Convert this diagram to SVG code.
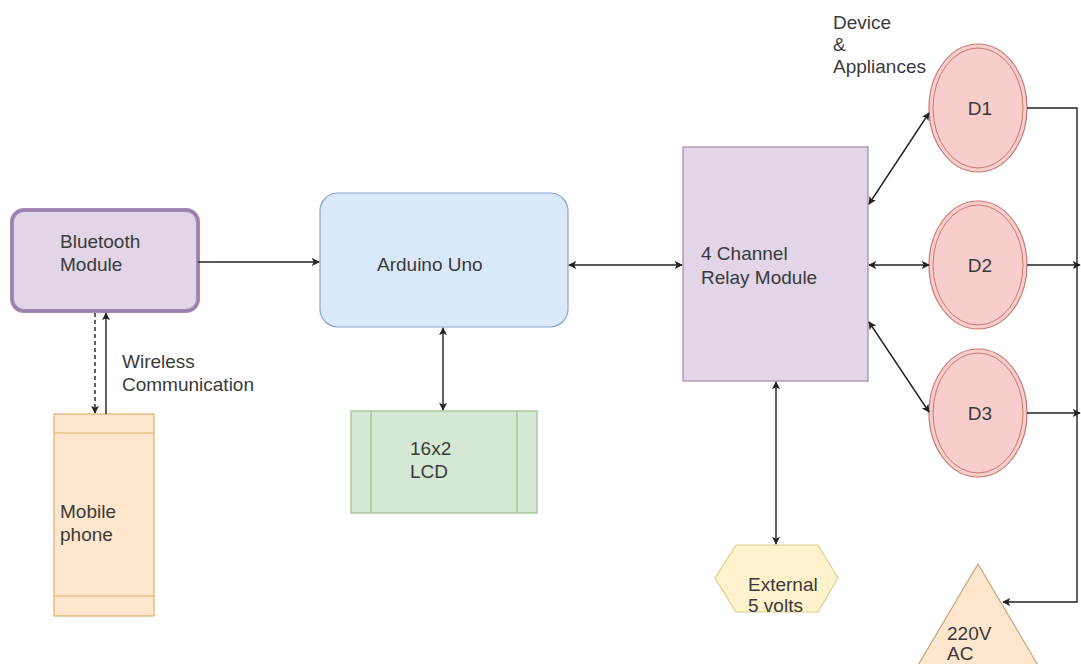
<svg xmlns="http://www.w3.org/2000/svg" width="1081" height="664" viewBox="0 0 1081 664">
<defs>
<marker id="ah" viewBox="0 0 10 10" refX="9" refY="5" markerWidth="8" markerHeight="8" markerUnits="userSpaceOnUse" orient="auto-start-reverse"><path d="M0,0 L10,5 L0,10 L2.5,5 Z" fill="#222"/></marker>
</defs>
<style>
text{font-family:"Liberation Sans",Arial,sans-serif;font-size:19px;fill:#3a3a3a}
.c{stroke:#222;stroke-width:1.4;fill:none}
</style>
<rect width="1081" height="664" fill="#fff"/>
<g id="bluetooth">
<rect x="12" y="210" width="186" height="101" rx="12" fill="#e1d5e7" stroke="#a58bb5" stroke-width="4"/>
<rect x="12" y="210" width="186" height="101" rx="12" fill="none" stroke="#8f77a0" stroke-width="1"/>
<text x="60" y="248">Bluetooth</text><text x="60" y="271">Module</text>
</g>
<g id="arduino">
<rect x="320" y="193" width="248" height="134" rx="18" fill="#dae8fc" stroke="#8aa6cc" stroke-width="1.2"/>
<text x="377" y="271">Arduino Uno</text>
</g>
<g id="relay">
<rect x="683" y="147" width="185" height="234" fill="#e1d5e7" stroke="#9f89ad" stroke-width="1.2"/>
<text x="701" y="260">4 Channel</text><text x="701" y="284">Relay Module</text>
</g>
<g id="d1"><ellipse cx="978" cy="108" rx="49" ry="64" fill="#f8cecc" stroke="#c97772" stroke-width="1.2"/><ellipse cx="978" cy="108" rx="45" ry="60" fill="none" stroke="#c97772" stroke-width="1"/><text x="980" y="115" text-anchor="middle">D1</text></g>
<g id="d2"><ellipse cx="978" cy="265" rx="49" ry="64" fill="#f8cecc" stroke="#c97772" stroke-width="1.2"/><ellipse cx="978" cy="265" rx="45" ry="60" fill="none" stroke="#c97772" stroke-width="1"/><text x="980" y="272" text-anchor="middle">D2</text></g>
<g id="d3"><ellipse cx="978" cy="413" rx="49" ry="64" fill="#f8cecc" stroke="#c97772" stroke-width="1.2"/><ellipse cx="978" cy="413" rx="45" ry="60" fill="none" stroke="#c97772" stroke-width="1"/><text x="980" y="420" text-anchor="middle">D3</text></g>
<g id="lcd">
<rect x="351" y="411" width="186" height="102" fill="#d5e8d4" stroke="#9cc08a" stroke-width="1.2"/>
<line x1="371" y1="411" x2="371" y2="513" stroke="#9cc08a" stroke-width="1.2"/>
<line x1="517" y1="411" x2="517" y2="513" stroke="#9cc08a" stroke-width="1.2"/>
<text x="410" y="455">16x2</text><text x="410" y="478">LCD</text>
</g>
<g id="mobile">
<rect x="54" y="414" width="100" height="202" fill="#ffe6cc" stroke="#e0b070" stroke-width="1.2"/>
<line x1="54" y1="433" x2="154" y2="433" stroke="#e0b070" stroke-width="1.2"/>
<line x1="54" y1="596" x2="154" y2="596" stroke="#e0b070" stroke-width="1.2"/>
<text x="60" y="518">Mobile</text><text x="60" y="541">phone</text>
</g>
<g id="ext5v">
<polygon points="736,545 818,545 838,578 818,612 736,612 715,578" fill="#fff2cc" stroke="#e0cc8a" stroke-width="1.2"/>
<text x="748" y="591">External</text><text x="748" y="612">5 volts</text>
</g>
<g id="ac220">
<polygon points="978,564 1042,672 914,672" fill="#ffe6cc" stroke="#c9a67a" stroke-width="1.2"/>
<text x="947" y="640">220V</text><text x="947" y="660">AC</text>
</g>
<g id="labels">
<text x="122" y="368">Wireless</text><text x="122" y="391">Communication</text>
<text x="833" y="29">Device</text><text x="833" y="51">&amp;</text><text x="833" y="73">Appliances</text>
</g>
<g id="connectors">
<line class="c" x1="198" y1="262" x2="319" y2="262" marker-end="url(#ah)"/>
<line class="c" x1="569" y1="265" x2="682" y2="265" marker-start="url(#ah)" marker-end="url(#ah)"/>
<line class="c" x1="443" y1="328" x2="443" y2="410" marker-start="url(#ah)" marker-end="url(#ah)"/>
<line class="c" x1="776" y1="382" x2="776" y2="544" marker-start="url(#ah)" marker-end="url(#ah)"/>
<line class="c" x1="95" y1="313" x2="95" y2="413" stroke-dasharray="4,3" marker-end="url(#ah)"/>
<line class="c" x1="106" y1="414" x2="106" y2="313" marker-end="url(#ah)"/>
<line class="c" x1="869" y1="204" x2="929" y2="113" marker-start="url(#ah)" marker-end="url(#ah)"/>
<line class="c" x1="869" y1="265" x2="929" y2="265" marker-start="url(#ah)" marker-end="url(#ah)"/>
<line class="c" x1="869" y1="322" x2="929" y2="412" marker-start="url(#ah)" marker-end="url(#ah)"/>
<polyline class="c" points="1027,108 1077,108 1077,602 1003,602" marker-end="url(#ah)"/>
<line class="c" x1="1027" y1="265" x2="1080" y2="265" marker-end="url(#ah)"/>
<line class="c" x1="1027" y1="413" x2="1080" y2="413" marker-end="url(#ah)"/>
</g>
</svg>
